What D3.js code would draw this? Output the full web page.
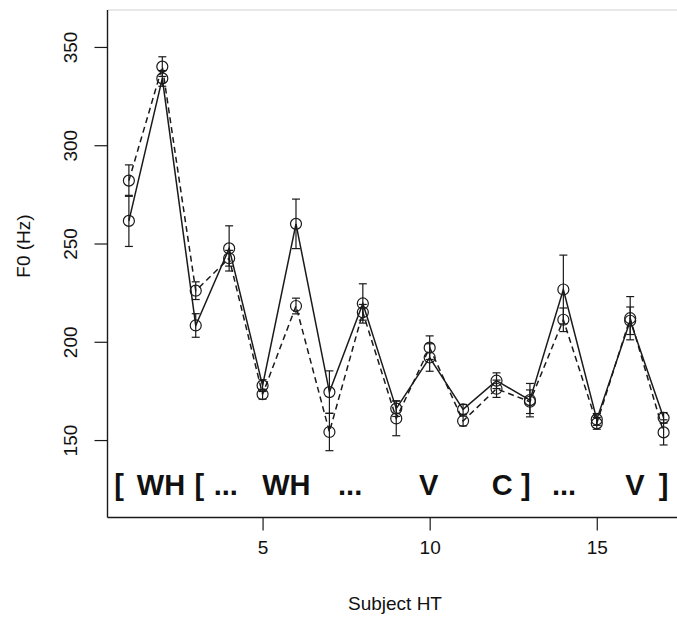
<!DOCTYPE html>
<html><head><meta charset="utf-8">
<script src="https://cdn.jsdelivr.net/npm/d3@7"></script>
<style>
html,body{margin:0;padding:0;background:#fff;}
svg text{font-family:"Liberation Sans",Arial,Helvetica,sans-serif;fill:#111;}
</style></head>
<body><svg id="c" width="677" height="617"></svg>
<script>
const subjects = [1,2,3,4,5,6,7,8,9,10,11,12,13,14,15,16,17];
const solidMean = [261.5,334,208.3,247.5,177.7,260,174.4,219.5,166,192,165.6,180.2,170.3,226.6,160.5,210.7,161.3];
const solidErr  = [13,4,6,11.5,3,12.6,10.8,10,4,7,2.5,4,8.5,17.5,3,7,2.7];
const dashedMean = [282,340,226,242.5,173.3,218.2,154.1,215,161,197,159.7,176.1,169.5,211.2,158.5,212,153.9];
const dashedErr  = [8,5,4.5,4,2.5,4,9.5,4,8.8,6,2.5,4.4,6,6,3,11,6.4];
const xTicks = [5,10,15];
const yTicks = [150,200,250,300,350];
const annotLabels = ["[","WH","[","...","WH","...","V","C","]","...","V","]"];
const annotX = [0.71,1.96,3.11,3.9,5.71,7.62,9.97,12.17,12.88,14.02,16.14,17.0];
const annotY = 122;

const svg = d3.select("#c");
const x = d3.scaleLinear().domain([0.36,17.64]).range([107.5,685]);
const y = d3.scaleLinear().domain([110.6,368.8]).range([517.5,10]);
const ink = "#1a1a1a";

// faint top border
svg.append("line").attr("x1",107.5).attr("x2",677).attr("y1",10).attr("y2",10)
  .attr("stroke","#d0d0d0").attr("stroke-width",1);

// axes
const yAxis = d3.axisLeft(y).tickValues(yTicks).tickSize(13).tickFormat(d3.format("d"));
const gy = svg.append("g").attr("transform","translate(107.5,0)").call(yAxis);
gy.select(".domain").attr("d","M0,10V517.5").attr("stroke",ink).attr("stroke-width",1.4);
gy.selectAll(".tick line").attr("stroke",ink).attr("stroke-width",1.2);
gy.selectAll(".tick text").attr("font-size",19).attr("fill","#111")
  .attr("x",0).attr("text-anchor","middle")
  .attr("transform","translate(-37,0) rotate(-90)")
  .attr("dy","0.35em");

const xAxis = d3.axisBottom(x).tickValues(xTicks).tickSize(13).tickFormat(d3.format("d"));
const gx = svg.append("g").attr("transform","translate(0,517.5)").call(xAxis);
gx.select(".domain").attr("d","M107.5,0H677").attr("stroke",ink).attr("stroke-width",1.4);
gx.selectAll(".tick line").attr("stroke",ink).attr("stroke-width",1.2);
gx.selectAll(".tick text").attr("font-size",19).attr("fill","#111").attr("y",23).attr("dy","0.71em");

// axis titles
svg.append("text").attr("x",395).attr("y",610).attr("text-anchor","middle")
  .attr("font-size",19).text("Subject HT");
svg.append("text").attr("transform","translate(30,246) rotate(-90)").attr("text-anchor","middle")
  .attr("font-size",19).text("F0 (Hz)");

// annotations
svg.append("g").selectAll("text").data(annotLabels).join("text")
  .attr("x",(d,i)=>x(annotX[i])).attr("y",y(annotY))
  .attr("text-anchor","middle").attr("font-size",29).attr("font-weight","bold")
  .text(d=>d);

function drawSeries(means, errs, dash){
  const pts = subjects.map((s,i)=>({s, m:means[i], e:errs[i]}));
  const line = d3.line().x(d=>x(d.s)).y(d=>y(d.m));
  svg.append("path").datum(pts).attr("d",line).attr("fill","none")
    .attr("stroke",ink).attr("stroke-width",1.5)
    .attr("stroke-dasharray",dash?"6,4":null);
  const g = svg.append("g").attr("stroke",ink).attr("stroke-width",1.2).attr("fill","none");
  g.selectAll("line.v").data(pts).join("line").attr("class","v")
    .attr("x1",d=>x(d.s)).attr("x2",d=>x(d.s))
    .attr("y1",d=>y(d.m-d.e)).attr("y2",d=>y(d.m+d.e));
  g.selectAll("line.t").data(pts).join("line").attr("class","t")
    .attr("x1",d=>x(d.s)-4).attr("x2",d=>x(d.s)+4)
    .attr("y1",d=>y(d.m+d.e)).attr("y2",d=>y(d.m+d.e));
  g.selectAll("line.b").data(pts).join("line").attr("class","b")
    .attr("x1",d=>x(d.s)-4).attr("x2",d=>x(d.s)+4)
    .attr("y1",d=>y(d.m-d.e)).attr("y2",d=>y(d.m-d.e));
  g.selectAll("circle").data(pts).join("circle")
    .attr("cx",d=>x(d.s)).attr("cy",d=>y(d.m)).attr("r",5.5);
}
drawSeries(dashedMean, dashedErr, true);
drawSeries(solidMean, solidErr, false);
</script></body></html>
